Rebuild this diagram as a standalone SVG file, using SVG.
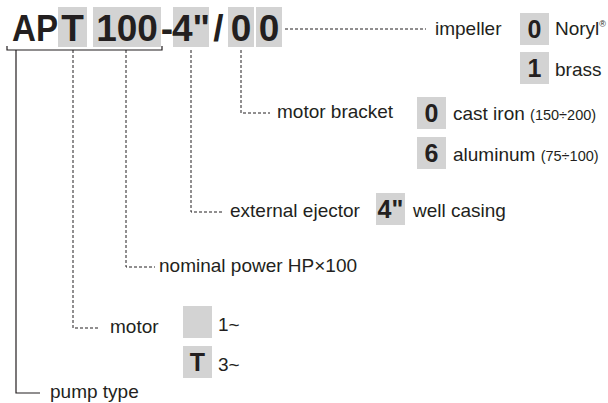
<svg xmlns="http://www.w3.org/2000/svg" width="608" height="403" viewBox="0 0 608 403">
<style>
.box{fill:#d3d3d3}
.big{font-family:"Liberation Sans",Arial,sans-serif;font-weight:bold;font-size:37px;fill:#231f20}
.dig{font-family:"Liberation Sans",Arial,sans-serif;font-weight:bold;font-size:25px;fill:#231f20;text-anchor:middle}
.lbl{font-family:"Liberation Sans",Arial,sans-serif;font-size:19px;fill:#231f20}
.sm{font-size:14.5px}
.dash{fill:none;stroke:#231f20;stroke-width:1;stroke-dasharray:3 2}
.solid{fill:none;stroke:#231f20;stroke-width:1.2}
</style>
<rect width="608" height="403" fill="#fff"/>
<g id="code">
<rect class="box" x="58" y="7" width="29" height="40"/>
<rect class="box" x="93" y="7" width="68" height="40"/>
<rect class="box" x="173" y="7" width="36" height="40"/>
<rect class="box" x="228" y="7" width="26" height="40"/>
<rect class="box" x="256" y="7" width="26" height="40"/>
<text class="big" x="12" y="41" textLength="46" lengthAdjust="spacingAndGlyphs">AP</text>
<text class="big" x="72.5" y="41" text-anchor="middle">T</text>
<text class="big" x="127" y="41" text-anchor="middle">100</text>
<text class="big" x="167" y="41" text-anchor="middle">-</text>
<text class="big" x="191" y="41" text-anchor="middle">4"</text>
<text class="big" x="218.5" y="41" text-anchor="middle">/</text>
<text class="big" x="241" y="41" text-anchor="middle">0</text>
<text class="big" x="269" y="41" text-anchor="middle">0</text>
</g>
<g id="connectors">
<path class="solid" d="M7 46 V50 H162 V46"/>
<path class="solid" d="M16 50 V393 H40"/>
<path class="dash" d="M285 29 H426"/>
<path class="dash" d="M241 50 V113 H270"/>
<path class="dash" d="M191 50 V212 H222"/>
<path class="dash" d="M126 50 V267 H155"/>
<path class="dash" d="M73 50 V328 H99"/>
</g>
<g id="impeller">
<text class="lbl" x="435" y="35">impeller</text>
<rect class="box" x="520" y="13" width="29" height="32"/>
<text class="dig" x="534.5" y="38">0</text>
<text class="lbl" x="555" y="35">Noryl<tspan font-size="9" dy="-8">®</tspan></text>
<rect class="box" x="520" y="52" width="29" height="32"/>
<text class="dig" x="534.5" y="77">1</text>
<text class="lbl" x="555" y="76">brass</text>
</g>
<g id="motor-bracket">
<text class="lbl" x="277" y="118">motor bracket</text>
<rect class="box" x="417" y="97" width="29" height="32"/>
<text class="dig" x="431.5" y="122">0</text>
<text class="lbl" x="453" y="120">cast iron <tspan class="sm">(150÷200)</tspan></text>
<rect class="box" x="417" y="137" width="29" height="32"/>
<text class="dig" x="431.5" y="162">6</text>
<text class="lbl" x="453" y="161">aluminum <tspan class="sm">(75÷100)</tspan></text>
</g>
<g id="external-ejector">
<text class="lbl" x="230" y="217">external ejector</text>
<rect class="box" x="376" y="193" width="29" height="32"/>
<text class="dig" x="390.5" y="218">4"</text>
<text class="lbl" x="413" y="217">well casing</text>
</g>
<g id="nominal-power">
<text class="lbl" x="159" y="272">nominal power HP×100</text>
</g>
<g id="motor">
<text class="lbl" x="110" y="333">motor</text>
<rect class="box" x="183" y="306" width="29" height="32"/>
<text class="lbl" x="218" y="331">1~</text>
<rect class="box" x="183" y="346" width="29" height="32"/>
<text class="dig" x="197.5" y="371">T</text>
<text class="lbl" x="218" y="371">3~</text>
</g>
<g id="pump-type">
<text class="lbl" x="50" y="398">pump type</text>
</g>
</svg>
